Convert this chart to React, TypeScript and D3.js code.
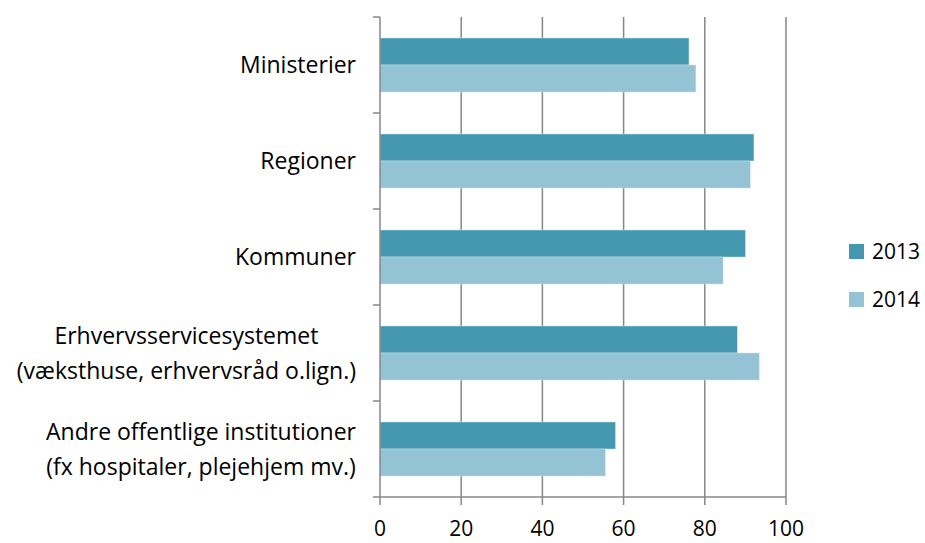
import React, { useEffect, useRef } from "react";
import * as d3 from "d3";

const categories: string[][] = [
  ["Ministerier"],
  ["Regioner"],
  ["Kommuner"],
  ["Erhvervsservicesystemet", "(væksthuse, erhvervsråd o.lign.)"],
  ["Andre offentlige institutioner", "(fx hospitaler, plejehjem mv.)"],
];
const series = ["2013", "2014"];
const values2013 = [76.1, 92.1, 90.0, 88.0, 58.0];
const values2014 = [77.8, 91.2, 84.5, 93.4, 55.5];
const xTicks = [0, 20, 40, 60, 80, 100];
const colors = ["#4398AF", "#93C3D5"];

export default function App() {
  const ref = useRef<SVGSVGElement>(null);

  useEffect(() => {
    const width = 925;
    const height = 543;
    const margin = { top: 17, right: 139, bottom: 46, left: 380 };
    const innerWidth = width - margin.left - margin.right;
    const innerHeight = height - margin.top - margin.bottom;
    const font = "'Open Sans', Lato, sans-serif";
    const fs = "23px";

    const svg = d3.select(ref.current);
    svg.selectAll("*").remove();

    const g = svg.append("g").attr("transform", `translate(${margin.left}, ${margin.top})`);

    const xScale = d3.scaleLinear().domain([0, 100]).range([0, innerWidth]);
    const yScale = d3.scaleBand<number>()
      .domain(d3.range(categories.length))
      .range([0, innerHeight])
      .paddingInner(0.4375)
      .paddingOuter(0.21875);
    const sub = d3.scaleBand<string>().domain(series).range([0, yScale.bandwidth()]);

    // gridlines
    g.selectAll("line.grid").data(xTicks.filter(t => t > 0)).enter()
      .append("line")
      .attr("x1", d => xScale(d)).attr("x2", d => xScale(d))
      .attr("y1", 0).attr("y2", innerHeight + 8)
      .attr("stroke", "#878787").attr("stroke-width", 1.5);

    // bars
    const data = [values2013, values2014];
    data.forEach((vals, si) => {
      g.selectAll(`rect.s${si}`).data(vals).enter()
        .append("rect")
        .attr("x", 0)
        .attr("y", (d, i) => (yScale(i) as number) + (sub(series[si]) as number))
        .attr("width", d => xScale(d))
        .attr("height", sub.bandwidth())
        .attr("fill", colors[si])
        .attr("stroke", "#cfe3ea").attr("stroke-width", 0.5);
    });

    // y axis line and ticks
    const step = yScale.step();
    g.append("line").attr("x1", 0).attr("x2", 0).attr("y1", 0).attr("y2", innerHeight)
      .attr("stroke", "#878787").attr("stroke-width", 1.5);
    g.selectAll("line.ytick").data(d3.range(categories.length + 1)).enter()
      .append("line")
      .attr("x1", -7).attr("x2", 0)
      .attr("y1", d => d * step).attr("y2", d => d * step)
      .attr("stroke", "#878787").attr("stroke-width", 1.5);

    // x axis line and ticks
    g.append("line").attr("x1", 0).attr("x2", innerWidth).attr("y1", innerHeight).attr("y2", innerHeight)
      .attr("stroke", "#878787").attr("stroke-width", 1.5);
    g.append("line").attr("x1", 0).attr("x2", 0).attr("y1", innerHeight).attr("y2", innerHeight + 8)
      .attr("stroke", "#878787").attr("stroke-width", 1.5);

    g.selectAll("text.xlab").data(xTicks).enter()
      .append("text")
      .attr("x", d => xScale(d))
      .attr("y", innerHeight + 39)
      .attr("text-anchor", "middle")
      .style("font-family", font).style("font-size", "21px").attr("fill", "#000")
      .text(d => String(d));

    // category labels
    categories.forEach((lines, i) => {
      const cy = (yScale(i) as number) + yScale.bandwidth() / 2;
      const t = g.append("text")
        .attr("text-anchor", "middle")
        .style("font-family", font).style("font-size", fs).attr("fill", "#000");
      const spans = lines.map((ln, j) =>
        t.append("tspan").attr("y", cy + 8 + (j - (lines.length - 1) / 2) * 35).text(ln));
      const maxW = d3.max(spans, s => (s.node() as SVGTSpanElement).getComputedTextLength()) || 0;
      spans.forEach(s => s.attr("x", -24 - maxW / 2));
    });

    // legend
    const legend = svg.append("g").attr("transform", "translate(849, 244)");
    series.forEach((s, i) => {
      legend.append("rect").attr("x", 0).attr("y", i * 48).attr("width", 15).attr("height", 15)
        .attr("fill", colors[i]);
      legend.append("text").attr("x", 23).attr("y", i * 48 + 14.5)
        .style("font-family", font).style("font-size", "21px").attr("fill", "#000")
        .text(s);
    });
  }, []);

  return <svg ref={ref} width={925} height={543} style={{ display: "block", position: "absolute", left: 0, top: 0 }}></svg>;
}
